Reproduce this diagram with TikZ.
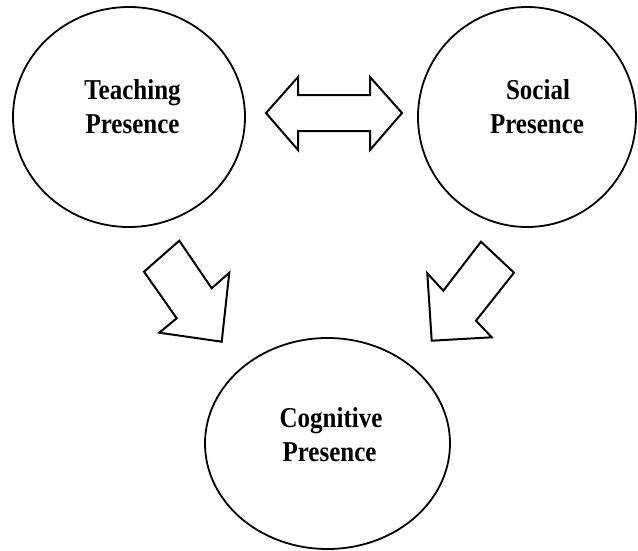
\documentclass[tikz,border=0pt]{standalone}
\usepackage{fontspec}
\setmainfont{Liberation Serif}
\usetikzlibrary{shapes.geometric}
\newcommand{\tallword}[1]{\scalebox{1}[1.15]{#1}}
\tikzset{
  presence/.style={draw=black, line width=1.8pt, ellipse, inner sep=0pt},
  caption/.style={anchor=base, inner sep=0pt, font=\fontsize{25}{30}\selectfont\bfseries},
  blockarrow/.style={draw=black, line width=2pt, line join=miter, fill=white}
}
\begin{document}
\begin{tikzpicture}[x=1pt, y=-1pt]
  \useasboundingbox (0,0) rectangle (638,550);

  % the three presences
  \node[presence, minimum width=232pt, minimum height=220pt] (teach) at (129,117) {};
  \node[presence, minimum width=218pt, minimum height=220pt] (social) at (527,117) {};
  \node[presence, minimum width=245pt, minimum height=211pt] (cog) at (327.5,443.5) {};

  \node[caption] (teach1) at (132.5,99) {\tallword{Teaching}};
  \node[caption] (teach2) at (132.5,133) {\tallword{Presence}};
  \node[caption] (social1) at (538,99) {\tallword{Social}};
  \node[caption] (social2) at (537,133) {\tallword{Presence}};
  \node[caption] (cog1) at (331,427) {\tallword{Cognitive}};
  \node[caption] (cog2) at (329.5,461.5) {\tallword{Presence}};

  % two-way block arrow between teaching and social presence
  \draw[blockarrow] (266,113) -- (298,77) -- (298,95) -- (370,95) -- (370,77)
    -- (402,113) -- (370,150) -- (370,131) -- (298,131) -- (298,150) -- cycle;

  % block arrow from teaching presence down to cognitive presence
  \draw[blockarrow] (179.3,240.7) -- (144,271.7) -- (176.7,318.3) -- (159.3,332.7)
    -- (221.7,341.7) -- (229.3,272.7) -- (211.7,288.3) -- cycle;

  % block arrow from social presence down to cognitive presence
  \draw[blockarrow] (481,241.7) -- (514,272.7) -- (476,320.7) -- (491.7,337.3)
    -- (431.7,340.7) -- (427.3,273.3) -- (443.3,290.7) -- cycle;
\end{tikzpicture}
\end{document}
